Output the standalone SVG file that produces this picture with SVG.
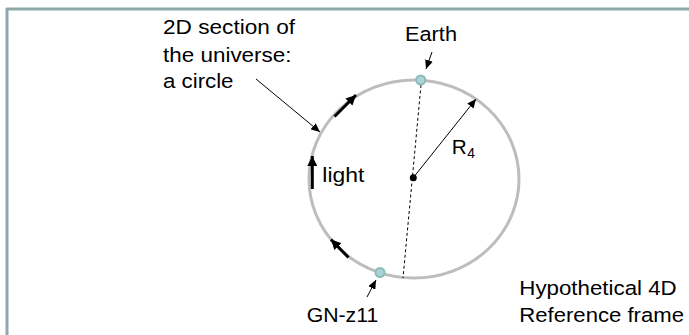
<svg xmlns="http://www.w3.org/2000/svg" width="689" height="335" viewBox="0 0 689 335">
<style>
text{font-family:"Liberation Sans",Arial,sans-serif;font-size:20.5px;fill:#000}
.thin{stroke:#000;stroke-width:1;fill:none}
.thick{stroke:#000;stroke-width:3;fill:none}
.dot{fill:#a9d3d4;stroke:#8bbcbd;stroke-width:2}
</style>
<defs>
<marker id="ah" markerUnits="userSpaceOnUse" markerWidth="10" markerHeight="8" refX="9" refY="4" orient="auto">
<path d="M0,0 L9,4 L0,8 Z" fill="#000"/>
</marker>
<marker id="ahb" markerUnits="userSpaceOnUse" markerWidth="11" markerHeight="10" refX="10" refY="5" orient="auto">
<path d="M0,0 L10,5 L0,10 Z" fill="#000"/>
</marker>
</defs>
<rect width="689" height="335" fill="#fff"/>
<g id="frame">
<line x1="6" y1="9" x2="689" y2="9" stroke="#8fa9ab" stroke-width="3"/>
<line x1="7" y1="8" x2="7" y2="335" stroke="#8fa9ab" stroke-width="3"/>
</g>
<g id="universe">
<ellipse cx="414" cy="179" rx="105" ry="99" fill="none" stroke="#bdbdbd" stroke-width="3"/>
</g>
<g id="connectors">
<line class="thin" x1="421" y1="85" x2="403" y2="278" stroke-dasharray="3,2.5"/>
<line class="thin" x1="413" y1="178" x2="476" y2="99" marker-end="url(#ah)"/>
<line class="thin" x1="256" y1="79" x2="320" y2="132" marker-end="url(#ah)"/>
<line class="thin" x1="432" y1="52" x2="426" y2="69" marker-end="url(#ah)"/>
<line class="thin" x1="367" y1="297" x2="376" y2="280" marker-end="url(#ah)"/>
<line class="thick" x1="334.5" y1="116.5" x2="356" y2="95" marker-end="url(#ahb)"/>
<line class="thick" x1="312.3" y1="189" x2="312.3" y2="156" marker-end="url(#ahb)"/>
<line class="thick" x1="348.5" y1="257.5" x2="331" y2="239.5" marker-end="url(#ahb)"/>
</g>
<g id="center">
<circle cx="413.3" cy="177.7" r="3.5" fill="#000"/>
</g>
<g id="earth">
<circle class="dot" cx="420.7" cy="80" r="4.5"/>
<text x="405" y="40.7" textLength="52" lengthAdjust="spacingAndGlyphs">Earth</text>
</g>
<g id="gnz11">
<circle class="dot" cx="380" cy="272.5" r="4.5"/>
<text x="306.7" y="321.7" textLength="71.6" lengthAdjust="spacingAndGlyphs">GN-z11</text>
</g>
<g id="section-label">
<text x="163" y="34" textLength="132" lengthAdjust="spacingAndGlyphs">2D section of</text>
<text x="163" y="61.5" textLength="128.5" lengthAdjust="spacingAndGlyphs">the universe:</text>
<text x="163" y="88" textLength="70.5" lengthAdjust="spacingAndGlyphs">a circle</text>
</g>
<g id="light-label">
<text x="322.3" y="181.7" textLength="42" lengthAdjust="spacingAndGlyphs">light</text>
</g>
<g id="radius-label">
<text x="451.7" y="154.3" textLength="15" lengthAdjust="spacingAndGlyphs">R</text>
<text x="467.3" y="158.3" style="font-size:15px" textLength="7.7" lengthAdjust="spacingAndGlyphs">4</text>
</g>
<g id="frame-label">
<text x="519.3" y="295" textLength="157.4" lengthAdjust="spacingAndGlyphs">Hypothetical 4D</text>
<text x="519.3" y="321.7" textLength="164.7" lengthAdjust="spacingAndGlyphs">Reference frame</text>
</g>
</svg>
